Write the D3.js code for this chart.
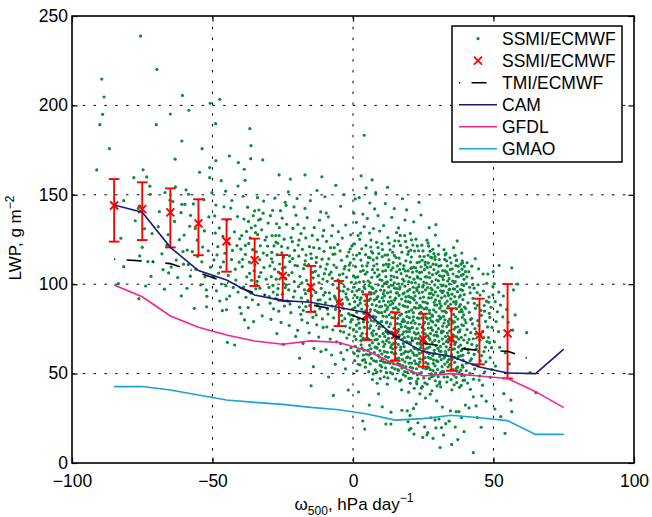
<!DOCTYPE html>
<html><head><meta charset="utf-8">
<script src="https://cdn.jsdelivr.net/npm/d3@7"></script>
<style>
body{margin:0;background:#fff;}
text{font-family:"Liberation Sans",Arial,Helvetica,sans-serif;fill:#000;}
</style></head>
<body>
<svg id="chart" width="652" height="517"></svg>
<script>
const xTicks=[-100,-50,0,50,100];
const yTicks=[0,50,100,150,200,250];
const binX=[-85,-75,-65,-55,-45,-35,-25,-15,-5,5,15,25,35,45,55,65,75];
const camLWP=[144.3,140.2,120.6,107.6,102.3,94,90.8,89.9,87,84,70.5,62.3,59.5,53.7,50.3,50,63.7];
const gfdlLWP=[99.6,93,82.2,75.9,71.6,68.2,66.4,68.3,67.4,62.8,55.2,48.7,50,48.7,47.3,39.9,31];
const gmaoLWP=[42.7,42.8,40.8,38,35.2,33.9,32.8,31.1,29.8,27.4,24,24.8,26.7,25.3,23.7,16,16];
const tmiX=[-85,-75,-65,-55,-45,-35,-25,-15,-5,5,15,25,35,45,55,65];
const tmiLWP=[114,113,111.5,106.5,101,95,90.8,88.5,85.5,79.5,71,67,64.5,63,62.5,57];
const ssmiX=[-85,-75,-65,-55,-45,-35,-25,-15,-5,5,15,25,35,45,55];
const ssmiMean=[144,142,140.2,134,124,113.5,104.6,98.3,89.7,82.8,71.6,69.2,69.2,71.6,72.5];
const ssmiTop=[158.8,157,153.6,147.5,136.3,125.5,116.3,110.2,101.8,94.3,84.3,83.5,86.5,91.9,100.1];
const ssmiBottom=[123.8,124.7,120.6,116.2,107,99,90.8,84.5,76.6,68.8,57.2,53.9,51.6,55.2,47.3];
const legendLabels=["SSMI/ECMWF","SSMI/ECMWF","TMI/ECMWF","CAM","GFDL","GMAO"];
const scatterPts=[
[-89.4,214.7],[-88.6,204.7],[-89.1,195],[-90.1,189.2],[-86.7,175.8],[-91.2,163.9],[-81.6,146.7],[-82.6,125.7],[-81.6,109.8],[-83.5,100.3],
[-75.6,238.8],[-70,189.2],[-78,159.6],[-74.7,164],[-73.4,160],[-72.3,154.8],[-72.1,150.3],[-75.9,143.7],[-76.4,142.4],[-75,120.6],[-75.9,115.8],[-73,112.6],[-71.2,112.6],[-71.9,104.4],[-73.8,99],[-76.2,91.9],[-74.2,131],[-77.5,135.5],[-71.5,128.3],
[-69.8,220.2],[-65,195.2],[-60.7,205.6],[-63.3,169.9],[-60.9,180.1],[-63.2,154.4],[-68.9,140.6],[-69.3,132.2],[-65.8,127.7],[-61.2,140],[-60.9,144.7],[-65.1,147],[-68,117],[-67.6,108.1],[-65.6,106.3],[-64.7,109.6],[-62.9,113.5],[-66.2,121.8],[-63.5,135.1],[-61.8,124.9],[-60.5,118.3],[-64.1,146.2],[-66.9,151.3],[-62.4,103.7],[-60.3,111.2],[-67.1,97.2],[-61.1,93.5],
[-58.4,197.3],[-53.7,175.8],[-54.6,162.6],[-59.4,152.7],[-58.5,150.3],[-59.8,144.7],[-60.1,127.5],[-59,119.1],[-59.1,97.7],[-56.5,86.5],[-52.1,87.4],[-52,93.2],[-50.8,201.2],[-51,165.2],[-51,159.6],[-50.2,151.2],[-57.8,138.5],[-56.1,131.2],[-55.4,124.6],[-57.2,118.2],[-53.8,112.5],[-55.9,108.3],[-52.7,104.1],[-58.6,110.9],[-54.2,99.6],[-51.5,118.7],[-52.9,129.8],[-51.3,137.6],[-56.8,144.9],[-53.1,147.3],[-57.9,104.5],[-55.3,115.6],[-50.7,109.5],[-53.5,120.8],[-58.1,132.4],[-52.2,96.8],
[-47.4,203.4],[-48.9,189.8],[-48.8,169.1],[-46.9,157.9],[-44,171.7],[-40.8,168],[-40.9,154.9],[-45.3,152],[-48.8,144.3],[-49.6,104.2],[-47.4,90.6],[-46.5,85.2],[-45,91.7],[-45,85.7],[-44.7,67.5],[-42.1,66],[-49.2,138.2],[-47.6,131.5],[-46.3,126.7],[-44.8,135.9],[-43.5,142.6],[-42.2,129.3],[-41.3,121.6],[-48.1,121],[-45.6,117.3],[-43.2,113.8],[-49.5,113.6],[-47.2,109.6],[-41.9,108.4],[-44.4,104.9],[-46.8,100.1],[-42.6,98.2],[-40.5,112.3],[-48.6,96.3],[-43.9,93.4],[-41.1,137.8],[-45.9,143.3],[-40.3,125.4],[-49,128.6],[-42.9,118.9],[-46.1,112.5],[-44.2,122.9],[-48.4,116.4],[-41.7,102.3],[-47.8,106.2],[-43.1,146.8],[-45.2,99.2],[-40.9,95.6],
[-38.7,164.3],[-36.7,187],[-36.3,177.5],[-36.4,170.2],[-38.4,158.1],[-40.3,87],[-38.6,80],[-39.8,83.6],[-32.1,169.5],[-34,148.4],[-35,141],[-33.5,141.5],[-32,139.7],[-33.6,135.9],[-34.8,132.7],[-33.9,127.7],[-31.3,124.7],[-33,121.5],[-39.1,149.2],[-37.5,143.1],[-38.8,136.4],[-36.2,131.5],[-39.6,127.2],[-37.1,122.8],[-35.7,119.3],[-38.3,116.7],[-36.9,112.4],[-39.4,109.8],[-35.2,107.5],[-37.8,104.1],[-34.1,101.6],[-38.9,98.4],[-36.4,95.2],[-33.2,113.7],[-31.7,109.3],[-30.6,116.2],[-32.8,106.5],[-34.6,97.4],[-30.9,102.8],[-35.8,91.3],[-33.7,88.6],[-37.3,86.9],[-31.4,94.1],[-39.9,119.6],[-36.6,125.9],[-34.4,118.1],[-32.5,130.4],[-30.2,134.2],[-37.9,129.5],[-35.5,138.3],[-31.8,146.5],[-38.1,92.7],[-34.9,110.8],[-30.4,121.3],[-33.1,97.8],[-36.1,102.2],[-39.3,113.9],[-37.2,75.6],[-32.3,82.3],[-35.4,79.1],
[-26.3,161.1],[-22.3,158.8],[-24.1,145.8],[-23.8,144.1],[-21,143.2],[-27.2,133.8],[-26.2,131.6],[-23.6,133.5],[-28.8,127.2],[-27.5,127.2],[-26.3,127.2],[-22,126],[-21.6,123.8],[-29,114.2],[-27,116.5],[-25.3,117.6],[-24.7,115.1],[-29.4,138.3],[-28.1,121.4],[-26.8,122.9],[-25.4,121.1],[-23.2,120.3],[-20.8,118.9],[-29.6,110.2],[-27.9,108.4],[-26.1,111.3],[-24.2,109.5],[-22.5,112.7],[-20.6,110.6],[-29.1,104.2],[-27.3,102.8],[-25.8,105.9],[-23.9,103.1],[-21.7,106.5],[-28.5,99.3],[-26.7,97.6],[-24.6,100.2],[-22.9,96.8],[-20.9,101.4],[-29.8,93.1],[-27.6,91.9],[-25.1,94.4],[-23.3,90.6],[-21.2,92.8],[-28.3,86.2],[-26.4,84.9],[-24.4,87.8],[-22.1,84.1],[-29.2,80.3],[-25.6,78.6],[-22.7,76.9],[-27.1,72.4],[-20.4,70.8],[-24.8,66.3],[-28.9,117.8],[-21.4,131.2],[-25.2,136.9],[-20.3,138.6],[-23,151.6],[-27.8,148.1],[-22.6,115.8],[-26.6,106.8],[-24.1,98.1],[-28.4,95.6],[-20.7,96.1],[-22.4,88.9],[-29.5,89.4],
[-17.1,161.1],[-11.1,160.1],[-10,148.9],[-17.1,142.4],[-18.5,128.3],[-14.9,43.2],[-14.1,53.9],[-19,58.6],[-17,113],[-15,117],[-13,115],[-11,114],[-12,120],[-15.5,121],[-18,119.5],[-14,120.5],[-19.6,133.4],[-16.3,137.2],[-13.8,131.6],[-11.9,135.8],[-10.4,130.1],[-19.2,124.6],[-16.8,125.9],[-14.5,127.3],[-12.6,124.8],[-10.8,126.9],[-19.8,110.3],[-17.6,108.7],[-15.8,110.9],[-13.4,107.2],[-11.6,109.8],[-10.2,105.9],[-18.9,104.4],[-16.5,102.1],[-14.2,103.5],[-12.1,100.8],[-10.7,102.9],[-19.4,98.6],[-17.3,96.9],[-15.1,99.2],[-13.2,95.4],[-11.3,97.7],[-18.4,92.3],[-16.1,90.8],[-14.7,93.6],[-12.4,91.1],[-10.5,93.9],[-19.1,87.2],[-17.7,85.4],[-15.4,88.1],[-13.6,84.7],[-11.8,86.3],[-18.2,80.1],[-16.2,78.4],[-14.3,81.5],[-12.9,77.3],[-10.9,80.6],[-19.7,74.2],[-15.6,72.8],[-12.2,70.4],[-17.8,66.9],[-13.9,64.1],[-11.4,62.3],[-16.7,116.3],[-13.1,112.2],[-19.3,115.7],[-10.3,118.4],[-17.4,131.4],[-11.5,140.5],[-15.2,146.7],[-12.8,152.4],[-19.9,147.9],[-14.4,106.6],[-16.9,94.7],[-12.7,88.3],[-18.6,83.2],[-10.6,75.8],
[-9.5,139.8],[-8.8,137.7],[-9.4,124],[-8,120.4],[-6.7,120.4],[-1.5,118],[-1,119.7],[-2.8,110],[-1,112],[-7,37.8],[-7.6,60.4],[-1.7,40.8],[-3.2,150.1],[-6.1,155.3],[-4.4,143.6],[-7.3,132.8],[-5.2,129.4],[-2.6,133.1],[-0.8,127.6],[-8.6,114.2],[-6.4,116.9],[-4.1,113.4],[-2.1,115.6],[-9.7,108.5],[-7.8,106.7],[-5.9,109.3],[-3.6,105.8],[-1.4,107.9],[-9.2,101.6],[-7.1,99.8],[-5.3,102.4],[-3.1,98.7],[-0.6,101.1],[-8.4,95.2],[-6.6,93.4],[-4.7,96.3],[-2.4,92.7],[-0.3,95.9],[-9.8,89.6],[-7.5,87.8],[-5.6,90.1],[-3.4,86.4],[-1.2,88.9],[-8.9,83.3],[-6.9,81.2],[-4.9,84.6],[-2.9,80.7],[-0.9,82.8],[-9.3,76.1],[-7.2,74.5],[-5.1,77.9],[-3.3,73.2],[-1.1,75.6],[-8.1,69.3],[-5.8,67.8],[-2.2,69.9],[-9.6,63.4],[-4.3,61.7],[-0.7,64.5],[-6.3,55.2],[-2.7,52.6],[-8.7,48.1],[-5.4,122.3],[-3.8,125.8],[-7.6,127.1],[-0.4,121.4],[-6.8,110.7],[-4.6,118.6],[-8.2,91.7],[-1.8,97.2],[-3.9,79.4],[-6.2,85.9],[-9.9,95.4],[-0.2,86.1],[-4.8,105.2],[-7.4,103.3],[-2.3,103.9],
[4,183.3],[0.8,147.7],[2.2,148.4],[6,145.4],[7.7,142.1],[4,132.2],[2.7,128.6],[5.9,128.6],[6.4,124.7],[4.5,116.5],[5.5,115],[7,117.4],[8.5,114.7],[2,39.7],[4.2,19],[5.8,32.4],[8.6,44.6],[3.5,23.5],[9.1,38.7],[6.9,46.7],[1.4,51.6],[7.2,49.8],[9.7,47.2],
[0.5,122.5],[1.3,116.2],[0.9,109.8],[1.7,104.1],[0.4,98.3],[1.5,92.6],[0.7,86.9],[1.9,80.4],[0.2,74.7],[1.1,69.1],[1.6,62.8],[0.6,57.3],
[2.4,125.1],[3.1,119.8],[2.8,113.5],[3.6,107.7],[2.3,101.2],[3.4,95.8],[2.6,89.4],[3.9,83.7],[2.1,78.2],[3.3,72.5],[2.9,66.1],[3.7,60.4],[2.5,54.9],
[4.6,121.7],[5.3,111.9],[4.4,105.6],[5.7,99.2],[4.8,93.4],[5.1,87.8],[4.3,81.1],[5.9,75.3],[4.7,69.6],[5.4,63.2],[4.1,57.8],[5.6,51.1],
[6.3,120.8],[7.4,110.3],[6.7,103.9],[7.1,97.6],[6.2,91.8],[7.8,85.4],[6.5,79.7],[7.3,73.9],[6.9,67.3],[7.6,61.7],[6.1,55.4],
[8.4,123.4],[9.2,117.1],[8.8,108.2],[9.6,102.5],[8.2,96.1],[9.4,90.3],[8.7,84.6],[9.9,78.8],[8.3,72.1],[9.1,66.6],[8.9,60.2],[9.7,54.7],[8.5,50.9],
[1.2,134.6],[3.5,139.2],[5.1,136.8],[7.3,131.1],[8.9,138.4],[9.5,129.7],[6.8,158.3],[2.9,160.6],[8.1,151.2],[0.3,139.7],[4.7,153.9],[1.8,127.3],[6.1,114.8],[3.3,110.2],[7.7,106.4],[0.9,103.7],[5.4,101.8],[9,99.6],[2.2,97.1],[6.4,95.3],[4.2,90.7],[8.3,88.1],[1.3,84.3],[5.8,82.6],[3.7,78.9],[9.4,76.2],[7.1,71.3],[0.5,70.9],[2.8,68.4],[5.9,65.8],[8.6,64.3],[3.9,63.1],[1.7,59.8],[6.6,58.5],[9.8,57.2],[4.4,53.6],[7.9,52.1],
[10.3,122.6],[11.4,116.3],[10.8,110.7],[11.7,104.2],[10.5,98.9],[11.2,93.4],[10.1,87.6],[11.9,81.9],[10.6,76.4],[11.3,70.8],[10.9,65.1],[11.6,59.5],[10.2,53.8],[11.1,48.2],[11.7,21.8],[10.4,31.4],
[12.4,126.1],[13.2,119.2],[12.8,113.6],[13.6,107.9],[12.2,101.3],[13.4,95.7],[12.6,90.1],[13.9,84.4],[12.1,78.8],[13.1,73.2],[12.9,67.5],[13.7,61.9],[12.3,56.2],[13.3,50.6],[13.5,28.4],
[14.5,121.3],[15.3,114.9],[14.2,109.2],[15.7,103.7],[14.8,97.8],[15.1,92.2],[14.4,86.5],[15.9,80.9],[14.6,75.2],[15.4,69.6],[14.1,63.9],[15.6,58.3],[14.9,52.6],[15.2,47],
[16.3,124.1],[17.4,117.9],[16.8,111.4],[17.1,105.9],[16.2,100.2],[17.8,94.6],[16.5,88.9],[17.3,83.3],[16.9,77.6],[17.6,72],[16.1,66.3],[17.2,60.7],[16.7,55],[17.9,49.4],[17.4,29.5],
[18.4,127.2],[19.2,120.6],[18.8,113.1],[19.6,107.4],[18.2,101.8],[19.4,96.1],[18.7,90.5],[19.9,84.8],[18.3,79.2],[19.1,73.5],[18.9,67.9],[19.7,62.2],[18.5,56.6],[19.3,50.9],[19.8,39.6],[19.6,23.1],[20,18.5],
[10.9,132.8],[13.8,137.4],[16.2,131.5],[18.5,135.9],[11.5,145.1],[14.7,142.3],[17.6,147.8],[19.1,141.6],[12.3,154.2],[15.5,128.9],[10.4,115.4],[12.5,109.7],[14.6,104.1],[16.7,98.5],[18.8,92.9],[11.2,100.3],[13.3,88.5],[15.4,83.7],[17.5,79.1],[19.5,75.4],[10.7,82.1],[12.8,76.2],[14.9,70.6],[17,64.8],[19.1,58.9],[11.9,68.4],[13.9,57.1],[16,52.3],[18.1,61.5],[10.3,60.9],[12.4,47.6],[14.5,55.4],[16.6,45.8],[18.7,48.6],[17.3,40.9],[19.3,29.2],[13.5,21.8],[19.8,118.3],[16.9,121.7],[14.1,117.8],[11.8,111.2],[17.9,108.6],[15.8,95.1],[13.6,99.4],[19.4,87.3],[10.8,94.7],[12.1,85.9],[18.3,70.2],[15.3,64.7],[11.4,56.3],[17.7,54.5],
[20.4,128.4],[21.3,121.9],[20.8,115.2],[21.6,109.6],[20.2,103.9],[21.4,98.3],[20.6,92.6],[21.9,87],[20.1,81.3],[21.1,75.7],[20.9,70],[21.7,64.4],[20.3,58.7],[21.2,53.1],[20.7,47.4],[21.8,41.8],[21.5,30.5],[20.6,19.4],
[22.4,125.2],[23.3,118.7],[22.8,112.1],[23.7,106.5],[22.2,100.8],[23.5,95.2],[22.6,89.5],[23.9,83.9],[22.1,78.2],[23.2,72.6],[22.9,66.9],[23.6,61.3],[22.3,55.6],[23.4,50],[22.7,44.3],[23.8,38.7],[22.5,33],[23.5,145.8],[23.1,22.5],
[24.5,121.8],[25.3,115.5],[24.2,109.7],[25.7,104.1],[24.8,98.4],[25.1,92.8],[24.4,87.1],[25.9,81.5],[24.6,75.8],[25.4,70.2],[24.1,64.5],[25.6,58.9],[24.9,53.2],[25.2,47.6],[24.3,41.9],[25.8,36.3],[24.8,14.3],[25.5,20.2],
[26.3,124.6],[27.4,118.4],[26.8,111.9],[27.1,106.3],[26.2,100.6],[27.8,95],[26.5,89.3],[27.3,83.7],[26.9,78],[27.6,72.4],[26.1,66.7],[27.2,61.1],[26.7,55.4],[27.9,49.8],[26.4,44.1],[27.5,38.5],[26.6,17],[26.7,123],
[28.4,119.5],[29.2,113.8],[28.8,108.2],[29.6,102.5],[28.2,96.9],[29.4,91.2],[28.7,85.6],[29.9,79.9],[28.3,74.3],[29.1,68.6],[28.9,63],[29.7,57.3],[28.5,51.7],[29.3,46],[28.1,40.4],[29.8,34.7],[28.5,13.8],[29.5,133.3],[29.2,24.1],
[21.6,134.9],[24.2,138.7],[27.1,131.6],[29.3,127.5],[20.9,109.1],[22.9,104.2],[25,99.4],[27.2,94.7],[29.1,88.3],[21.3,92.1],[23.4,86.8],[25.6,83.2],[27.8,79.5],[20.2,75.2],[22.2,69.7],[24.3,66.1],[26.4,61.9],[28.6,57.7],[21.8,60.3],[23.8,56.4],[25.9,52.7],[28,48.3],[20.9,51.1],[22.6,45.5],[24.7,42.7],[27.7,25.3],[20.3,26.6],[26.3,15.8],[29.5,19.6],[21.7,16.2],[23.6,112.4],[25.7,110.8],[28.1,114.7],[20.6,119.1],[22.8,96.5],[26.1,86.2],[28.3,82.1],[24.9,77.3],[21.5,81.7],[27.4,68.9],[23.1,63.2],[25.3,74.6],[29.8,71.5],[20.5,66.7],[27,53.4],[22.9,49.3],
[30.4,116.7],[31.3,110.4],[30.8,104.8],[31.6,99.1],[30.2,93.5],[31.4,87.8],[30.6,82.2],[31.9,76.5],[30.1,70.9],[31.1,65.2],[30.9,59.6],[31.7,53.9],[30.3,48.3],[31.2,42.6],[31.8,31.3],[31,8.6],[30.6,24.6],[31.5,19.8],
[32.4,119.3],[33.3,113.1],[32.8,107.5],[33.7,101.8],[32.2,96.2],[33.5,90.5],[32.6,84.9],[33.9,79.2],[32.1,73.6],[33.2,67.9],[32.9,62.3],[33.6,56.6],[32.3,51],[33.4,45.3],[33,22],
[34.5,114.8],[35.3,108.6],[34.2,103.1],[35.7,97.4],[34.8,91.8],[35.1,86.1],[34.4,80.5],[35.9,74.8],[34.6,69.2],[35.4,63.5],[34.1,57.9],[35.6,52.2],[34.9,46.6],[35.2,40.9],[35.1,10.4],[34.7,29.1],[35.8,120.4],
[36.3,116.2],[37.4,110.1],[36.8,104.4],[37.1,98.8],[36.2,93.1],[37.8,87.5],[36.5,81.8],[37.3,76.2],[36.9,70.5],[37.6,64.9],[36.1,59.2],[37.2,53.6],[36.7,47.9],[37.9,42.3],[36.7,28.7],[37.7,28.7],[37.1,124.2],[36.9,113.5],
[38.4,111.2],[39.2,105.5],[38.8,99.9],[39.6,94.2],[38.2,88.6],[39.4,82.9],[38.7,77.3],[39.9,71.6],[38.3,66],[39.1,60.3],[38.9,54.7],[39.7,49],[38.5,43.4],[39.5,17.5],[39,112],[40,107],[39.6,110],
[30.5,121.6],[33.1,117.2],[38.7,117.4],[31.8,95.3],[34,93.7],[36.6,88.9],[38.9,84.6],[30.9,89.2],[32.7,80.1],[35.4,78.3],[37.9,73.4],[31.5,72.8],[33.9,69.1],[36.2,66.3],[38.5,62.8],[30.2,64.1],[32.4,58.7],[34.7,55.2],[37,51.4],[39.2,46.2],[31.3,50.6],[33.6,48.1],[36,43.7],[30.8,44.3],[34.2,23.4],[36.4,20.1],[38.6,25.3],[32.2,15.6],[37.3,13.1],[30.3,106.9],[33.8,105.3],[36.1,100.9],[32.1,102.6],[34.4,97.3],[39,96.6],[31,80.6],[35.7,71.2],[37.5,59.5],[36.3,116],[29.2,115.4],
[40.6,112],[41.2,107],[40.3,100.4],[41.7,95.1],[40.9,89.6],[41.4,84.2],[40.2,78.5],[41.9,72.9],[40.7,67.3],[41.1,61.6],[40.4,55.8],[41.6,50.1],[40.8,44.7],[41.3,30.8],[40,32.4],[42.4,103.4],[43.1,97.8],[42.7,92.1],[43.6,86.5],[42.2,80.8],[43.4,75.2],[42.8,69.5],[43.9,63.9],[42.1,58.2],[43.3,52.6],[42.9,46.9],[42.8,37],[42.8,5.8],[44.5,99.7],[45.2,93.9],[44.3,88.2],[45.7,82.6],[44.8,76.9],[45.4,71.3],[44.1,65.6],[45.8,60],[44.6,54.3],[45.1,48.7],[44.9,46.4],[45.8,37.5],[45.6,20],[46.3,105.7],[46.4,96.2],[47.5,90.5],[46.8,84.9],[47.2,79.2],[46.2,73.6],[47.7,67.9],[46.6,62.3],[47.3,56.6],[46.9,51],[48,105.7],[48.5,83.7],[48.4,92.8],[49.1,87.1],[48.7,81.5],[49.5,75.8],[48.2,70.2],[49.3,64.5],[48.8,58.9],[49.8,98.6],[49.8,94],[49.9,107],[42.3,110.1],[44.7,108.6],[43.5,114.3],[47.6,100.5],[41.8,41.2],[46.1,43.5],[48.9,47.9],[43.8,31.9],[47.4,34.6],[44.2,25.4],[49.4,52.3],[38.9,113],
[50.6,90.2],[51.4,84.6],[50.9,79.1],[51.8,73.5],[50.3,67.8],[52.5,88.3],[53.3,81.7],[52.2,64.7],[54.7,85.9],[55.2,78.6],[54.2,61.6],[56.5,109.2],[58.6,100.1],[57.1,96.8],[57.7,82.8],[56.8,74.3],[61.8,72.9],[56.2,35.2],[56.5,28.7],[54.1,16.6],[52.6,25.9],[63,50.5],[65.1,39.3],[50.7,54.2],[53.7,38.8],[50.2,100.3],[51.9,95.6],[53.5,93.4],[52,110.5],[50.5,30.2],[55.6,55.4]
];
const scatterPtsDense=[
[-4.2,100.8],[-2.5,94.6],[-3.7,89.1],[-1.6,83.5],[-4.5,73.8],[-0.8,78.9],[-2.1,63.2],[-3.4,57.9],[-1.3,110.6],[-4.9,91.7],
[0.3,114.1],[1.1,100.7],[0.6,93.9],[1.8,88.2],[0.1,82.5],[1.2,77.1],[0.8,65.3],[1.9,55.2],
[2.3,117.2],[3.8,101.5],[2.9,92.4],[3.1,86.1],[2.4,75.4],[3.6,69.8],[2.2,62.7],[3.4,57.4],
[4.9,110.2],[4.2,97.6],[5.6,90.9],[4.6,85.2],[5.2,78.8],[4.9,72.3],[5.7,60.4],[4.5,56.2],
[6.6,118.3],[7.2,113.6],[6.1,100.8],[7.5,94.9],[6.8,88.7],[7.2,82.1],[6.3,76.8],[7.8,68.9],[6.4,63.9],[7.4,57.2],
[8.9,120.5],[8.5,111.3],[9.3,105.2],[8.8,93.1],[9.5,87.3],[8.1,81.6],[9.2,75.2],[8.6,69.1],[9.6,62.9],[8.3,56.8],[9.9,51.4],
[10.5,119.4],[11.6,107.6],[10.3,102.2],[11.1,96.4],[10.9,90.6],[11.4,84.8],[10.2,79.2],[11.7,73.6],[10.6,67.8],[11.2,62.3],[10.8,56.6],[11.9,50.7],
[12.9,122.9],[12.3,116.4],[13.6,104.6],[12.7,98.5],[13.2,92.8],[12.4,87.3],[13.8,81.3],[12.5,72.4],[13.4,64.7],[12.6,59.1],[13.9,53.4],[12.2,44.1],
[14.9,124.3],[14.3,112.1],[15.5,106.9],[14.7,100.8],[15.4,95.1],[14.2,89.3],[15.8,77.9],[14.4,72.7],[15.1,67.2],[14.6,61.1],[15.9,55.6],[14.1,49.8],
[16.8,127.3],[16.4,114.6],[17.7,102.8],[16.6,97.3],[17.3,91.7],[16.1,85.9],[17.9,80.4],[16.3,74.8],[17.5,69.2],[16.9,63.3],[17.6,57.8],[16.2,51.7],[17.1,46.4],
[18.7,123.9],[19.5,116.7],[18.1,110.4],[19.1,104.7],[18.5,98.9],[19.8,93.3],[18.4,87.6],[19.2,81.9],[18.6,76.3],[19.6,70.7],[18.2,65.1],[19.4,59.4],[18.8,53.8],[19.9,47.3],
[20.8,124.8],[21.9,118.5],[20.5,112.3],[21.2,106.7],[20.9,100.9],[21.7,95.4],[20.3,89.8],[21.5,84.1],[20.7,78.4],[21.8,72.9],[20.2,67.3],[21.3,61.6],[20.8,55.9],[21.6,50.2],[20.4,44.6],
[22.9,121.4],[23.8,115.6],[22.3,109.2],[23.1,103.5],[22.6,97.8],[23.9,92.2],[22.4,86.6],[23.5,80.9],[22.8,75.2],[23.3,69.6],[22.1,63.9],[23.7,58.3],[22.6,52.7],[23.1,47.1],
[24.9,118.6],[25.7,112.3],[24.4,106.8],[25.2,101.2],[24.7,95.6],[25.8,89.9],[24.2,84.3],[25.5,78.6],[24.8,73.1],[25.1,67.4],[24.5,61.8],[25.9,56.1],[24.3,50.5],[25.6,44.8],
[26.9,121.3],[27.7,115.1],[26.4,109.4],[27.3,103.7],[26.6,98.1],[27.9,92.4],[26.2,86.8],[27.4,81.1],[26.8,75.5],[27.1,69.8],[26.5,64.2],[27.6,58.5],[26.3,52.9],[27.2,47.2],
[28.8,117.1],[29.6,110.9],[28.3,105.3],[29.1,99.6],[28.6,94],[29.8,88.3],[28.2,82.7],[29.4,77],[28.9,71.4],[29.5,65.7],[28.4,60.1],[29.2,54.4],[28.7,48.8],[29.9,43.1],
[30.7,113.8],[31.9,107.6],[30.4,101.9],[31.2,96.3],[30.8,90.6],[31.7,85],[30.3,79.3],[31.5,73.7],[30.6,68],[31.3,62.4],[30.2,56.7],[31.8,51.1],[30.9,45.4],
[32.8,116.4],[33.6,110.2],[32.3,104.6],[33.1,98.9],[32.7,93.3],[33.9,87.6],[32.2,82],[33.4,76.3],[32.9,70.7],[33.2,65],[32.5,59.4],[33.8,53.7],[32.4,48.1],
[34.9,111.9],[35.6,105.7],[34.3,100.1],[35.2,94.4],[34.7,88.8],[35.8,83.1],[34.1,77.5],[35.5,71.8],[34.8,66.2],[35.1,60.5],[34.4,54.9],[35.9,49.2],
[36.8,113.3],[37.7,107.1],[36.4,101.5],[37.2,95.8],[36.7,90.2],[37.9,84.5],[36.1,78.9],[37.5,73.2],[36.6,67.6],[37.3,61.9],[36.2,56.3],[37.8,50.6],[36.9,45],
[38.8,108.4],[39.5,102.7],[38.3,97.1],[39.1,91.4],[38.6,85.8],[39.8,80.1],[38.1,74.5],[39.4,68.8],[38.7,63.2],[39.2,57.5],[38.4,51.9],[39.7,46.3],
[40.5,104.1],[41.5,98.3],[40.1,86.4],[41.8,80.2],[40.6,74.6],[41.3,69.1],[40.9,63.4],[41.7,57.2],[40.3,51.6],[42.6,99.8],[43.2,89.3],[42.5,77.8],[43.7,72.1],[42.3,66.4],[43.1,60.7],[42.7,55.1],[44.2,95.3],[45.5,85.4],[44.4,79.6],[45.1,68.7],[44.7,62.4],[45.3,57.1],[46.7,88.1],[47.9,76.1],[46.5,70.2],[47.1,64.8],[48.6,67.3],[48.3,89.9],
[-19.5,121.9],[-17.2,110.9],[-14.8,114.4],[-12.3,104.8],[-18.2,100.7],[-15.7,96.3],[-11.7,91.3],[-16.8,87.5],[-13.1,82.8],[-9.2,111.2],[-7.1,116.7],[-5.5,97.8],[-8.4,105.4],[-6.3,92.5],[-9.1,86.1],[-3.1,108.6],
[-38.3,121.7],[-35.3,114.2],[-31.9,117.4],[-28.6,112.4],[-25.1,108.9],[-22.9,105.1],[-36.8,106.1],[-33.4,104.2],[-29.9,98.2],[-26.9,94.1],[-23.7,99.7],[-21.5,114.3],[-34.7,128.8],[-30.8,126.4],[-27.4,123.5],[-24.5,125.2],[-37.2,135.1],[-32.9,136.4],[-28.6,141.3],[-25.8,141.1]
];
const scatterPtsCore=[
[2.7,107.1],[3.9,98.6],[2.5,91.2],[3.6,80.6],[2.8,71.1],[3.2,64.3],[5,106.8],[5.9,95.5],[4.6,88.6],[5.3,82.9],[4.1,75.9],[5.5,69.4],[4.8,60.8],[6.9,108.1],[6.6,98.4],[7.6,91.1],[6.2,85.8],[7.5,79.3],[6.7,72.6],[7.9,64.8],[6.2,61.1],[8.7,104.3],[9.8,96.7],[8.4,91.9],[9.2,84.1],[8.8,78.2],[9.5,70.9],[8.2,64.7],[9.4,59.3],
[10.6,107.3],[11.8,101.1],[10.4,92.3],[11.5,88.3],[10.2,84.1],[11.9,78.4],[10.7,72.4],[11.3,66.5],[10.5,58.2],[11.6,53.2],[12.8,111.1],[13.5,102.5],[12.3,95.1],[13.7,90.6],[12.9,82.9],[13.3,77.8],[12.6,69.7],[13.8,66.1],[12.2,61.9],[13.1,55.8],[14.7,116.1],[15.8,110.3],[14.2,99.4],[15.6,97.6],[14.8,91.1],[15.3,86.9],[14.6,81.2],[15.7,74.1],[14.4,66.8],[15.2,61.3],[14.9,57.7],[16.6,108.1],[17.5,100.1],[16.4,93.7],[17.8,88.1],[16.7,82.7],[17.2,76.1],[16.5,71.4],[17.9,66.8],[16.3,58.6],[17.4,53.1],[18.6,107.4],[19.8,101.4],[18.2,95.2],[19.7,90.3],[18.9,84.3],[19.5,78.5],[18.1,73.4],[19.3,67.6],[18.7,62.4],[19.9,55.9],[18.4,51.1],
[20.6,108.9],[21.7,102.8],[20.2,97.1],[21.8,91.2],[20.9,85.6],[21.4,79.7],[20.1,73.5],[21.2,68.4],[20.6,62.8],[21.9,57.2],[20.4,53.6],[22.7,107.3],[23.4,98.6],[22.1,93.4],[23.8,88.2],[22.9,81.2],[23.6,77.6],[22.4,72.1],[23.9,66.6],[22.7,60.2],[23.2,55.1],[24.6,113.4],[25.4,108.1],[24.1,102.9],[25.8,96.8],[24.9,90.1],[25.3,86.2],[24.5,81.1],[25.7,72.2],[24.2,68.8],[25.5,63.6],[24.8,57.8],[26.7,116.2],[27.6,109.7],[26.3,104.1],[27.8,97.8],[26.9,92.3],[27.2,85.4],[26.4,80.6],[27.8,75.7],[26.6,71.1],[27.3,64.9],[26.8,59.1],[27.5,52.2],[28.5,111.2],[29.7,106.1],[28.1,101.4],[29.3,95.7],[28.9,89.9],[29.5,84.4],[28.4,78.9],[29.7,73.4],[28.2,67.3],[29.1,61.3],[28.6,55.7],[29.4,50.3],
[30.6,110.1],[31.7,104.2],[30.2,98.1],[31.5,92.4],[30.9,86.6],[31.2,81.3],[30.4,75.1],[31.8,69.3],[30.7,62.7],[31.4,57.8],[30.1,52.3],[32.6,113.9],[33.4,106.7],[32.1,99.5],[33.7,95.1],[32.8,89.1],[33.2,84.2],[32.4,78.3],[33.6,72.7],[32.2,66.7],[33.1,61.1],[32.7,55.3],[34.6,108.2],[35.5,101.8],[34.2,96.9],[35.8,90.1],[34.9,85.3],[35.3,79.5],[34.4,73.9],[35.6,68.4],[34.1,63.3],[35.2,57.9],[34.8,51.9],[36.6,110.4],[37.5,104.1],[36.2,97.3],[37.8,92.8],[36.9,86.2],[37.3,80.5],[36.4,75.8],[37.6,69.3],[36.1,63.8],[37.2,58.4],[36.7,52.8],[38.6,104.9],[39.4,99.3],[38.2,93.6],[39.7,87.2],[38.9,81.4],[39.3,76.9],[38.5,70.3],[39.8,64.1],[38.3,59.9],[39.1,53.6],[38.7,48.9],
[-3.5,96.1],[-1.9,91.4],[-4.1,82.6],[-0.5,80.2],[-2.7,76.6],[-1.4,71.8],[-4.4,66.8],[0.2,104.7],[1.4,96.3],[0.6,90.2],[1.2,73.4],[0.4,61.3]
];

const x=d3.scaleLinear().domain([-100,100]).range([72,634]);
const y=d3.scaleLinear().domain([0,250]).range([463,16]);
const svg=d3.select("#chart");
const FS=17.5;

// grid
const grid=svg.append("g").attr("stroke","#000").attr("stroke-width",1).attr("stroke-dasharray","2.5,8.3");
grid.selectAll("line.gx").data(xTicks.slice(1,-1)).enter().append("line")
 .attr("x1",d=>x(d)).attr("x2",d=>x(d)).attr("y1",y(250)).attr("y2",y(0));
grid.selectAll("line.gy").data(yTicks.slice(1,-1)).enter().append("line")
 .attr("y1",d=>y(d)).attr("y2",d=>y(d)).attr("x1",x(-100)).attr("x2",x(100));

// scatter
const green="#0a8a3e";
svg.append("g").selectAll("circle").data(scatterPts.concat(scatterPtsDense,scatterPtsCore)).enter().append("circle")
 .attr("cx",d=>x(d[0])).attr("cy",d=>y(d[1])).attr("r",1.6).attr("fill",green);

// error bars
const red="#ff0000";
const eb=svg.append("g").attr("stroke",red).attr("stroke-width",1.9).attr("fill","none");
ssmiX.forEach((xv,i)=>{
 const cx=x(xv);
 eb.append("line").attr("x1",cx).attr("x2",cx).attr("y1",y(ssmiBottom[i])).attr("y2",y(ssmiTop[i]));
 eb.append("line").attr("x1",cx-5.3).attr("x2",cx+5.3).attr("y1",y(ssmiBottom[i])).attr("y2",y(ssmiBottom[i]));
 eb.append("line").attr("x1",cx-5.3).attr("x2",cx+5.3).attr("y1",y(ssmiTop[i])).attr("y2",y(ssmiTop[i]));
 const cy=y(ssmiMean[i]), s=4;
 eb.append("path").attr("d",`M${cx-s},${cy-s}L${cx+s},${cy+s}M${cx-s},${cy+s}L${cx+s},${cy-s}`);
});

const line=(xs,ys)=>d3.line().x((d,i)=>x(xs[i])).y(d=>y(d))(ys);
svg.append("path").attr("d",line(tmiX,tmiLWP)).attr("fill","none").attr("stroke","#000")
 .attr("stroke-width",1.6).attr("stroke-dasharray","1.2,11.3,15,11.3");
const cols={cam:"#1c1a80",gfdl:"#f7238e",gmao:"#18a4d4"};
svg.append("path").attr("d",line(binX,camLWP)).attr("fill","none").attr("stroke",cols.cam).attr("stroke-width",1.6);
svg.append("path").attr("d",line(binX,gfdlLWP)).attr("fill","none").attr("stroke",cols.gfdl).attr("stroke-width",1.6);
svg.append("path").attr("d",line(binX,gmaoLWP)).attr("fill","none").attr("stroke",cols.gmao).attr("stroke-width",1.6);

// axes
const tl=5.6;
const ax=svg.append("g").attr("transform",`translate(0,${y(0)})`)
 .call(d3.axisBottom(x).tickValues(xTicks).tickSize(-tl).tickPadding(12));
const axT=svg.append("g").attr("transform",`translate(0,${y(250)})`)
 .call(d3.axisTop(x).tickValues(xTicks).tickSize(-tl).tickFormat(""));
const ay=svg.append("g").attr("transform",`translate(${x(-100)},0)`)
 .call(d3.axisLeft(y).tickValues(yTicks).tickSize(-tl).tickPadding(4));
const ayR=svg.append("g").attr("transform",`translate(${x(100)},0)`)
 .call(d3.axisRight(y).tickValues(yTicks).tickSize(-tl).tickFormat(""));
[ax,axT,ay,ayR].forEach(g=>{
 g.select(".domain").remove();
 g.selectAll(".tick line").attr("stroke","#000").attr("stroke-width",1.2);
 g.selectAll("text").attr("font-size",FS).attr("font-family","Liberation Sans, Arial, sans-serif").attr("fill","#000");
});
ay.selectAll("text").attr("dy","0.3em");
svg.append("rect").attr("x",x(-100)).attr("y",y(250)).attr("width",x(100)-x(-100)).attr("height",y(0)-y(250))
 .attr("fill","none").attr("stroke","#000").attr("stroke-width",1.6);

// axis labels
const xl=svg.append("text").attr("x",354).attr("y",510).attr("text-anchor","middle").attr("font-size",17);
xl.append("tspan").text("ω");
xl.append("tspan").attr("font-size",12).attr("dy",5).text("500");
xl.append("tspan").attr("dy",-5).text(", hPa day");
xl.append("tspan").attr("font-size",12).attr("dy",-8).text("−1");
const yl=svg.append("text").attr("transform","translate(21,238) rotate(-90)").attr("text-anchor","middle").attr("font-size",17);
yl.append("tspan").text("LWP, g m");
yl.append("tspan").attr("font-size",12).attr("dy",-7).text("−2");

// legend
const lg=svg.append("g");
lg.append("rect").attr("x",452).attr("y",26).attr("width",170).attr("height",136).attr("fill","#fff").attr("stroke","#000").attr("stroke-width",1.5);
legendLabels.forEach((t,i)=>{
 const by=45+22*i, cy=by-6.3;
 lg.append("text").attr("x",502).attr("y",by).attr("font-size",FS).text(t);
 if(i===0) lg.append("circle").attr("cx",478).attr("cy",cy).attr("r",1.6).attr("fill",green);
 if(i===1) lg.append("path").attr("d",`M474,${cy-4}L482,${cy+4}M474,${cy+4}L482,${cy-4}`).attr("stroke",red).attr("stroke-width",1.8);
 if(i===2) lg.append("line").attr("x1",459).attr("x2",497).attr("y1",cy).attr("y2",cy).attr("stroke","#000").attr("stroke-width",1.6).attr("stroke-dasharray","1.2,11.3,15,11.3");
 if(i>=3) lg.append("line").attr("x1",459).attr("x2",497).attr("y1",cy).attr("y2",cy).attr("stroke",[cols.cam,cols.gfdl,cols.gmao][i-3]).attr("stroke-width",1.6);
});
</script>
</body></html>
